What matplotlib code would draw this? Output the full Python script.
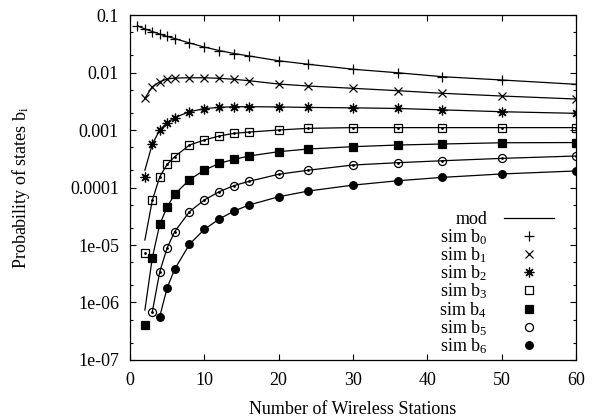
import matplotlib
matplotlib.use("Agg")
import matplotlib.pyplot as plt
from matplotlib.lines import Line2D
from matplotlib.ticker import LogLocator, NullFormatter

plt.rcParams['font.family'] = ['Liberation Serif', 'DejaVu Serif']
plt.rcParams['mathtext.fontset'] = 'custom'
plt.rcParams['mathtext.rm'] = 'Liberation Serif'
plt.rcParams['mathtext.it'] = 'Liberation Serif:italic'
plt.rcParams['font.size'] = 13

# number of wireless stations used in the runs
stations = [1, 2, 3, 4, 5, 6, 8, 10, 12, 14, 16, 20, 24, 30, 36, 42, 50, 60]

# simulated state probabilities (b1..b4 start at N=2, b5 at N=3, b6 at N=4)
sim_b0 = [0.0651, 0.0571, 0.0516, 0.0468, 0.0423, 0.0390, 0.0326, 0.0277, 0.0241,
          0.0214, 0.0194, 0.0160, 0.0139, 0.0114, 0.0099, 0.00846, 0.00741, 0.00624]
sim_b1 = [0.00356, 0.00566, 0.00692, 0.0077, 0.0080, 0.0081, 0.0081, 0.00793, 0.00762,
          0.0072, 0.0063, 0.00582, 0.00531, 0.00483, 0.00435, 0.0039, 0.00346]
sim_b2 = [1.54e-4, 5.7e-4, 1.0e-3, 1.34e-3, 1.64e-3, 2.08e-3, 2.35e-3, 2.48e-3, 2.54e-3,
          2.54e-3, 2.52e-3, 2.47e-3, 2.43e-3, 2.37e-3, 2.24e-3, 2.08e-3, 1.95e-3]
sim_b3 = [7.2e-6, 6.0e-5, 1.54e-4, 2.53e-4, 3.43e-4, 5.48e-4, 6.7e-4, 7.87e-4, 8.75e-4,
          9.2e-4, 1.0e-3, 1.07e-3, 1.1e-3, 1.1e-3, 1.1e-3, 1.1e-3, 1.1e-3]
sim_b4 = [4.0e-7, 6.0e-6, 2.3e-5, 4.6e-5, 7.6e-5, 1.37e-4, 2.0e-4, 2.63e-4, 3.09e-4,
          3.53e-4, 4.2e-4, 4.67e-4, 5.13e-4, 5.48e-4, 5.71e-4, 6.0e-4, 6.05e-4]
sim_b5 = [6.9e-7, 3.43e-6, 8.97e-6, 1.70e-5, 3.8e-5, 6.07e-5, 8.46e-5, 1.08e-4, 1.28e-4,
          1.70e-4, 2.0e-4, 2.46e-4, 2.7e-4, 2.92e-4, 3.21e-4, 3.53e-4]
sim_b6 = [5.7e-7, 1.81e-6, 3.77e-6, 1.03e-5, 1.87e-5, 2.83e-5, 3.9e-5, 4.96e-5, 6.9e-5,
          8.69e-5, 1.10e-4, 1.31e-4, 1.50e-4, 1.72e-4, 1.94e-4]

# analytical model; only differs from the simulation at the smallest N
mod_b0 = sim_b0
mod_b1 = sim_b1
mod_b2 = [2.0e-4] + sim_b2[1:]
mod_b3 = [1.22e-5] + sim_b3[1:]
mod_b4 = [7.4e-7] + sim_b4[1:]
mod_b5 = sim_b5
mod_b6 = sim_b6

ytick_vals = [1e-1, 1e-2, 1e-3, 1e-4, 1e-5, 1e-6, 1e-7]
ytick_text = ["0.1", "0.01", "0.001", "0.0001", "1e-05", "1e-06", "1e-07"]
xtick_vals = [0, 10, 20, 30, 40, 50, 60]

sims = [sim_b0, sim_b1, sim_b2, sim_b3, sim_b4, sim_b5, sim_b6]
mods = [mod_b0, mod_b1, mod_b2, mod_b3, mod_b4, mod_b5, mod_b6]

# gnuplot-like point styles
styles = [
    dict(marker='+', ms=6.5, mfc='none', mew=0.9),
    dict(marker='x', ms=5.5, mfc='none', mew=0.9),
    dict(marker=(8, 2, 0), ms=7, mfc='none', mew=0.9),
    dict(marker='s', ms=5.5, mfc='none', mew=0.9),
    dict(marker='s', ms=5.5, mfc='black', mew=0.9),
    dict(marker='o', ms=5.8, mfc='none', mew=0.9),
    dict(marker='o', ms=5.5, mfc='black', mew=0.9),
]
open_dot = [False, False, False, True, False, True, False]

fig = plt.figure(figsize=(5.94, 4.17), dpi=100)
ax = fig.add_axes([0.2189, 0.1367, 0.7508, 0.8273])

for k in range(7):
    xs = stations[len(stations) - len(sims[k]):]
    ax.plot(xs, mods[k], color='black', lw=0.9, zorder=2)
    ax.plot(xs, sims[k], ls='none', color='black', zorder=3, **styles[k])
    if open_dot[k]:
        ax.plot(xs, sims[k], ls='none', marker='o', ms=1.0, color='black', zorder=4)

ax.set_yscale('log')
ax.set_xlim(0, 60)
ax.set_ylim(1e-7, 0.1)
ax.set_xticks(xtick_vals)
ax.set_yticks(ytick_vals, ytick_text)
ax.yaxis.set_minor_locator(LogLocator(base=10, subs=(2.0, 5.0)))
ax.yaxis.set_minor_formatter(NullFormatter())
ax.tick_params(which='both', direction='in', top=True, right=True, labelsize=13)
ax.tick_params(which='major', length=4, width=0.8)
ax.tick_params(which='minor', length=2.2, width=0.8)
ax.tick_params(axis='y', pad=8)
ax.tick_params(axis='x', pad=9)
for sp in ax.spines.values():
    sp.set_linewidth(0.9)

ax.set_xlabel("Number of Wireless Stations", fontsize=13, labelpad=8)
ax.set_ylabel(r"Probability of states b$_\mathrm{i}$", fontsize=13, labelpad=27)

# key: text right-aligned, sample on the right
handles = [Line2D([], [], color='black', lw=0.9)]
labels = ["mod"]
for k in range(7):
    handles.append(Line2D([], [], ls='none', color='black', **styles[k]))
    labels.append("sim b$_{%d}$" % k)
ax.legend(handles, labels, loc='lower right', bbox_to_anchor=(0.967, -0.01),
          frameon=False, markerfirst=False, handlelength=2.8, handletextpad=0.9,
          labelspacing=-0.08, borderaxespad=0.0, fontsize=13)

fig.savefig("out.png", dpi=100)
